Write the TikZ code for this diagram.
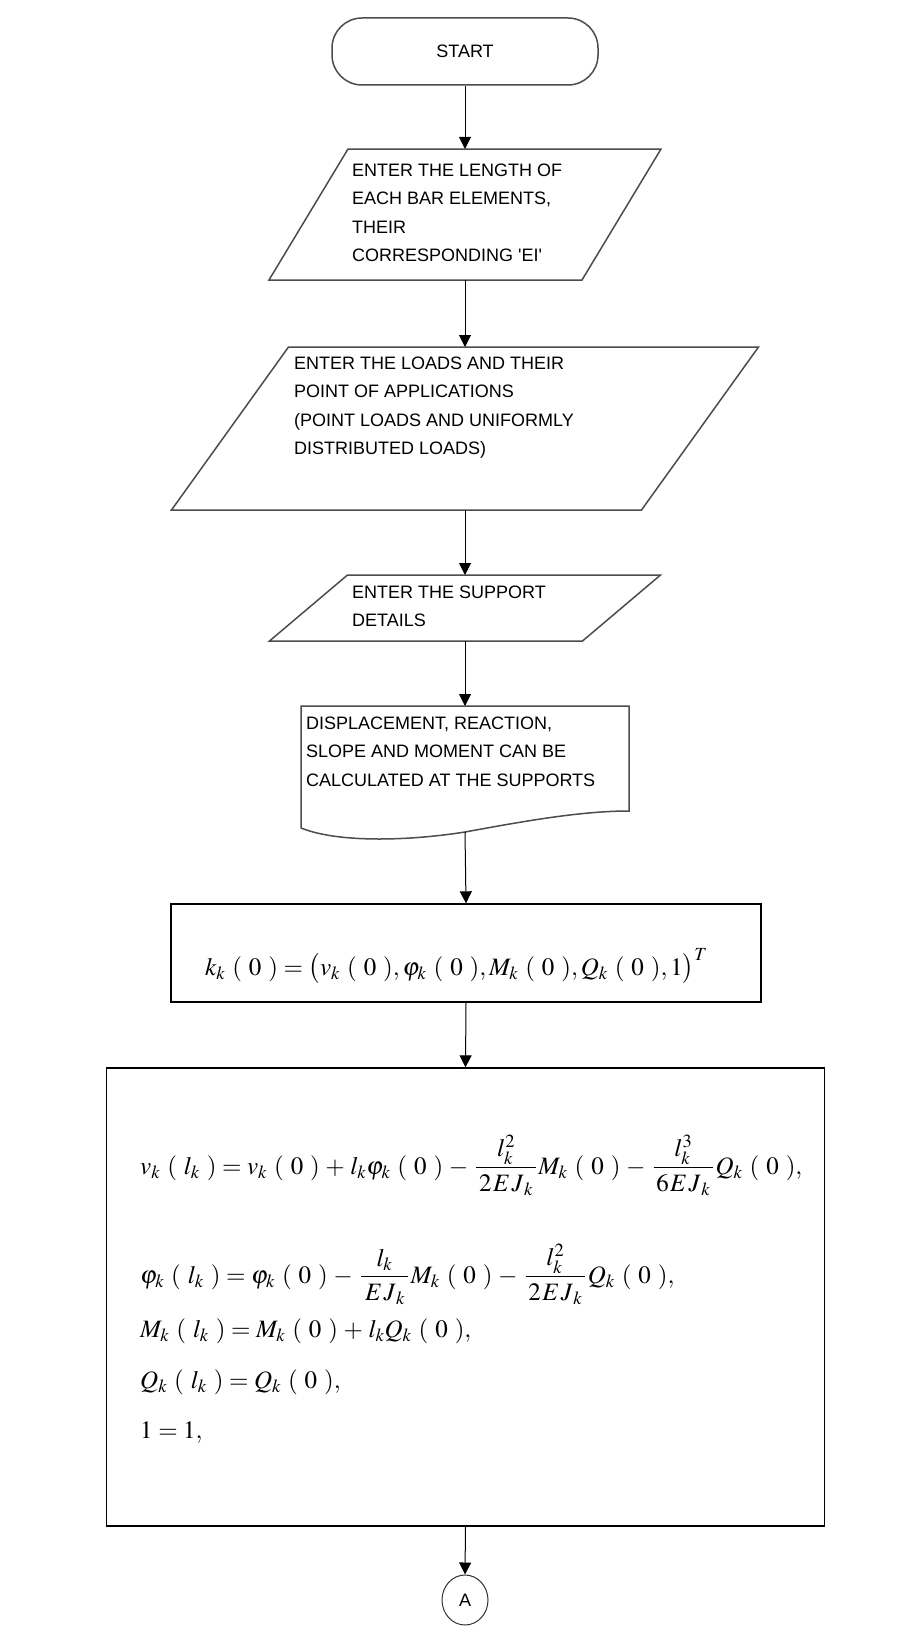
\documentclass[tikz,border=0pt]{standalone}
\usepackage{mathptmx}
\usepackage[no-math]{fontspec}
\setmainfont{Liberation Sans}
\usetikzlibrary{arrows.meta,calc,shapes.geometric}
\newcommand{\PP}[1]{\mkern5mu(\mkern5mu#1\mkern5mu)}
\newcommand{\FR}[2]{\mkern1mu\frac{\mkern2mu#1\mkern2mu}{\mkern2mu#2\mkern2mu}\mkern1mu}
\newcommand{\EJ}[1]{#1\mkern1mu E\mkern1mu J_{\mkern2mu k}}
\medmuskip=4mu plus 2mu minus 2mu
\begin{document}
\begin{tikzpicture}[x=1pt,y=-1pt,
  txt/.style={anchor=north west, inner sep=0pt, align=left, font=\fontsize{18}{28.5}\selectfont},
  ghost/.style={inner sep=0pt, outer sep=0pt},
  shapeline/.style={draw=black!70, line width=1.5pt, line join=miter},
  boxline/.style={draw=black, line width=1.4pt},
  arr/.style={line width=1pt, -{Triangle[width=12pt,length=12pt]}},
  eq/.style={anchor=base west, inner sep=0pt, font=\fontsize{25}{30}\selectfont}
]
\fill[white] (0,0) rectangle (922,1627);
\useasboundingbox (0,0) rectangle (922,1627);

% START
\node[draw=black!70, line width=1.5pt, rounded corners=30pt, minimum width=266pt, minimum height=67pt,
      inner sep=0pt, font=\fontsize{18}{20}\selectfont] (start) at (465,51.5) {START};

% input 1
\node[ghost, minimum width=392pt, minimum height=131pt] (in1) at (465,214.5) {};
\draw[shapeline] ($(in1.north west)+(79,0)$) -- (in1.north east) -- ($(in1.south east)-(79,0)$) -- (in1.south west) -- cycle;
\node[txt] (in1t) at (352,163.5) {ENTER THE LENGTH OF\\EACH BAR ELEMENTS,\\THEIR\\CORRESPONDING \textquotesingle EI\textquotesingle};

% input 2
\node[ghost, minimum width=587pt, minimum height=163pt] (in2) at (465,428.5) {};
\draw[shapeline] ($(in2.north west)+(117,0)$) -- (in2.north east) -- ($(in2.south east)-(117,0)$) -- (in2.south west) -- cycle;
\node[txt] (in2t) at (294,356.5) {ENTER THE LOADS AND THEIR\\POINT OF APPLICATIONS\\(POINT LOADS AND UNIFORMLY\\DISTRIBUTED LOADS)};

% input 3
\node[ghost, minimum width=391pt, minimum height=66pt] (in3) at (465,608) {};
\draw[shapeline] ($(in3.north west)+(78,0)$) -- (in3.north east) -- ($(in3.south east)-(78,0)$) -- (in3.south west) -- cycle;
\node[txt] (in3t) at (352,585.5) {ENTER THE SUPPORT\\DETAILS};

% document
\node[ghost, minimum width=328pt, minimum height=126pt] (doc) at (465,769) {};
\draw[shapeline] ($(doc.south west)+(0,-4)$) -- (doc.north west) -- (doc.north east) -- ($(doc.south east)+(0,-21)$)
  .. controls ($(doc.south east)+(-50,-21)$) and ($(doc.south)+(55,-10)$) .. (doc.south)
  .. controls ($(doc.south)+(-50,8)$) and ($(doc.south west)+(40,12)$) .. ($(doc.south west)+(0,-4)$) -- cycle;
\node[txt] (doct) at (306,716.5) {DISPLACEMENT, REACTION,\\SLOPE AND MOMENT CAN BE\\CALCULATED AT THE SUPPORTS};

% formula box 1
\node[boxline, minimum width=590pt, minimum height=98pt, inner sep=0pt] (f1) at (466,953) {};
\node[eq] (f1t) at (205,975) {$k_k\PP{0} = \bigl(v_k\PP{0},\varphi_k\PP{0},M_k\PP{0},Q_k\PP{0},1\bigr)^{T}$};

% formula box 2
\node[boxline, minimum width=718pt, minimum height=458pt, inner sep=0pt] (f2) at (465.5,1297) {};
\node[eq] (e1) at (140,1174) {$\displaystyle v_k\PP{l_k} = v_k\PP{0} + l_k\varphi_k\PP{0} - \FR{l_k^2}{\EJ{2}}M_k\PP{0} - \FR{l_k^3}{\EJ{6}}Q_k\PP{0},$};
\node[eq] (e2) at (140,1283) {$\displaystyle \varphi_k\PP{l_k} = \varphi_k\PP{0} - \FR{l_k}{\EJ{}}M_k\PP{0} - \FR{l_k^2}{\EJ{2}}Q_k\PP{0},$};
\node[eq] (e3) at (140,1337) {$M_k\PP{l_k} = M_k\PP{0} + l_kQ_k\PP{0},$};
\node[eq] (e4) at (140,1388) {$Q_k\PP{l_k} = Q_k\PP{0},$};
\node[eq] (e5) at (140,1438) {$1 = 1,$};

% connector A
\node[ellipse, draw=black!80, line width=1pt, minimum width=46pt, minimum height=50pt, inner sep=0pt,
      font=\fontsize{18}{20}\selectfont] (A) at (465,1600) {A};

% arrows
\draw[arr] (start.south) -- (in1.north);
\draw[arr] (in1.south) -- (in2.north);
\draw[arr] (in2.south) -- (in3.north);
\draw[arr] (in3.south) -- (doc.north);
\draw[arr] (doc.south) -- (f1.north);
\draw[arr] (f1.south) -- (f2.north);
\draw[arr] (f2.south) -- (A.north);
\end{tikzpicture}
\end{document}
